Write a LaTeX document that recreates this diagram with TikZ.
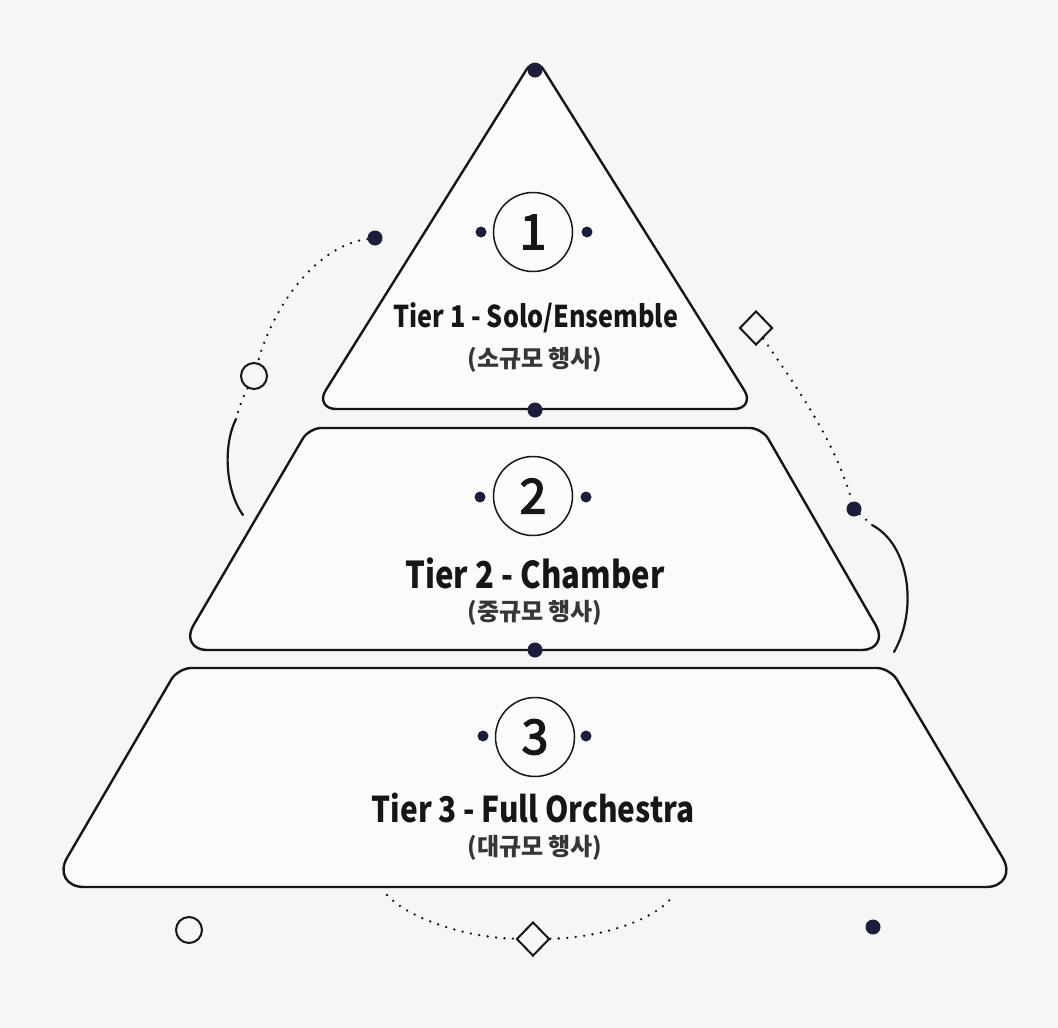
\documentclass[tikz,border=0pt]{standalone}
\usepackage{fontspec}
\setmainfont{Noto Sans CJK KR}
\newfontfamily\tierfont[FakeStretch=0.84]{Noto Sans CJK KR}
\newfontfamily\numfont[FakeBold=3]{Noto Sans CJK KR}
\usetikzlibrary{shapes.geometric,calc}
\definecolor{bgc}{HTML}{F6F6F7}
\definecolor{fillc}{HTML}{FBFBFB}
\definecolor{linec}{HTML}{161616}
\definecolor{dotc}{HTML}{1C1D3A}
\definecolor{subc}{HTML}{363636}
\tikzset{
  tierbox/.style={draw=linec, fill=fillc, line width=2.4pt, line join=round},
  rc/.style n args={4}{insert path={-- ($(#2)!#4!(#1)$) .. controls ($(#2)!#4*0.48!(#1)$) and ($(#2)!#4*0.48!(#3)$) .. ($(#2)!#4!(#3)$)}},
  bigdot/.style={circle, fill=dotc, inner sep=0pt, minimum size=15pt},
  smalldot/.style={circle, fill=dotc, inner sep=0pt, minimum size=11pt},
  opencirc/.style={circle, draw=linec, line width=2pt, fill=bgc, inner sep=0pt, minimum size=26pt},
  opendia/.style={diamond, draw=linec, line width=2pt, fill=bgc, inner sep=0pt, minimum width=33pt, minimum height=34pt},
  numcirc/.style={circle, draw=linec, line width=1.5pt, fill=fillc, inner sep=0pt, minimum size=79pt,
    text=linec, font=\numfont\fontsize{48}{52}\selectfont},
  tiertitle/.style={text=linec, inner sep=0pt, font=\tierfont\bfseries},
  subtitle/.style={text=subc, inner sep=0pt, font=\bfseries\fontsize{24}{28}\selectfont},
  dotline/.style={draw=linec, line width=2.6pt, line cap=round, dash pattern=on 0pt off 8.5pt},
  arcline/.style={draw=linec, line width=2.2pt, line cap=round}
}
\begin{document}
\begin{tikzpicture}[x=1pt,y=-1pt]
\fill[bgc] (0,0) rectangle (1058,1028);
\useasboundingbox (0,0) rectangle (1058,1028);

% tier outlines (corner points)
\coordinate (a1) at (535,56);
\coordinate (a1l) at (314,409);
\coordinate (a1r) at (756,409);
\coordinate (b2tl) at (309,428);
\coordinate (b2tr) at (762,428);
\coordinate (b2bl) at (179,650);
\coordinate (b2br) at (890,650);
\coordinate (b3tl) at (178,668);
\coordinate (b3tr) at (890,668);
\coordinate (b3bl) at (50,887);
\coordinate (b3br) at (1020,887);

\draw[tierbox] (535,409) [rc={a1l}{a1r}{a1}{22pt}] [rc={a1r}{a1}{a1l}{16pt}] [rc={a1}{a1l}{a1r}{22pt}] -- cycle;
\draw[tierbox] (535,650) [rc={b2bl}{b2br}{b2tr}{28pt}] [rc={b2br}{b2tr}{b2tl}{12pt}] [rc={b2tr}{b2tl}{b2bl}{12pt}] [rc={b2tl}{b2bl}{b2br}{28pt}] -- cycle;
\draw[tierbox] (535,887) [rc={b3bl}{b3br}{b3tr}{34pt}] [rc={b3br}{b3tr}{b3tl}{13pt}] [rc={b3tr}{b3tl}{b3bl}{13pt}] [rc={b3tl}{b3bl}{b3br}{34pt}] -- cycle;

% joint dots
\node[bigdot] (apex) at (535,70) {};
\node[bigdot] (j12) at (535,410) {};
\node[bigdot] (j23) at (535,650) {};

% tier 1
\node[numcirc] (n1) at (533,232) {1};
\node[smalldot] (n1l) at (481,232) {};
\node[smalldot] (n1r) at (587,232) {};
\node[tiertitle, font=\tierfont\bfseries\fontsize{30}{34}\selectfont] (t1) at (536,318) {Tier 1 - Solo/Ensemble};
\node[subtitle] (s1) at (535,360) {(소규모 행사)};

% tier 2
\node[numcirc] (n2) at (533,496) {2};
\node[smalldot] (n2l) at (480,497) {};
\node[smalldot] (n2r) at (586,497) {};
\node[tiertitle, font=\tierfont\bfseries\fontsize{37}{41}\selectfont] (t2) at (535,573) {Tier 2 - Chamber};
\node[subtitle] (s2) at (535,613) {(중규모 행사)};

% tier 3
\node[numcirc] (n3) at (535,737) {3};
\node[smalldot] (n3l) at (483,736) {};
\node[smalldot] (n3r) at (586,736) {};
\node[tiertitle, font=\tierfont\bfseries\fontsize{35.5}{40}\selectfont] (t3) at (533,808) {Tier 3 - Full Orchestra};
\node[subtitle] (s3) at (535,848) {(대규모 행사)};

% left decoration
\node[bigdot] (ldot) at (375,238) {};
\node[opencirc] (lcirc) at (254,376) {};
\coordinate (la) at (236,419);
\coordinate (lb) at (243,515);
\draw[dotline] (ldot) .. controls (320,245) and (275,300) .. (lcirc);
\draw[dotline] (lcirc) .. controls (244,395) and (239,407) .. (la);
\draw[arcline] (la) .. controls (223,445) and (225,490) .. (lb);

% right decoration
\node[opendia] (rdia) at (756,328) {};
\node[bigdot] (rdot) at (854,509) {};
\coordinate (ra) at (872,525);
\coordinate (rb) at (894,652);
\draw[dotline] (rdia) .. controls (795,385) and (835,440) .. (rdot);
\draw[dotline] (rdot) -- (ra);
\draw[arcline] (ra) .. controls (910,545) and (918,610) .. (rb);

% bottom decoration
\coordinate (bl) at (387,895);
\coordinate (br) at (672,897);
\node[opendia] (bdia) at (533,939) {};
\node[opencirc] (bcirc) at (189,930) {};
\node[bigdot] (bdot) at (873,927) {};
\draw[dotline] (bl) .. controls (410,920) and (470,938) .. (bdia);
\draw[dotline] (bdia) .. controls (600,938) and (655,920) .. (br);
\end{tikzpicture}
\end{document}
